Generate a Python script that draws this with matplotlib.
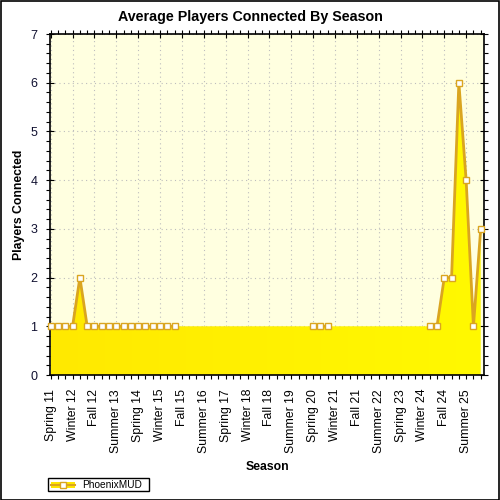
import numpy as np
import matplotlib
matplotlib.use("Agg")
import matplotlib.pyplot as plt
from matplotlib.colors import LinearSegmentedColormap
from matplotlib.patches import Rectangle
from matplotlib.lines import Line2D

plt.rcParams['font.family'] = ['Liberation Sans', 'DejaVu Sans']

# season names, Spring 11 .. Winter 26
season_cycle = ['Spring', 'Summer', 'Fall', 'Winter']
first_year = 11
n_seasons = 60
seasons = []
year = first_year
for i in range(n_seasons):
    name = season_cycle[i % 4]
    if name == 'Winter':
        year += 1
    seasons.append(f'{name} {year}')

# average players per season (None = no reading)
players = [1, 1, 1, 1, 2, 1, 1, 1, 1, 1, 1, 1, 1, 1, 1, 1, 1, 1,
           None, None, None, None, None, None, None, None, None,
           None, None, None, None, None, None, None, None, None,
           1, 1, 1,
           None, None, None, None, None, None, None, None, None,
           None, None, None, None,
           1, 1, 2, 2, 6, 4, 1, 3]
gap_level = 1.0
series_name = 'PhoenixMUD'

x = np.arange(len(seasons))
y = np.array([np.nan if v is None else v for v in players], dtype=float)
y_fill = np.where(np.isnan(y), gap_level, y)

line_col = '#DAA520'

fig = plt.figure(figsize=(5, 5), dpi=100)
fig.patch.set_facecolor('white')
ax = fig.add_axes([0.100, 0.250, 0.868, 0.682])
ax.set_facecolor('#FFFFE0')

# gradient-filled area
poly = ax.fill_between(x, 0, y_fill, facecolor='none', edgecolor='none', zorder=2)
grad = np.linspace(0, 1, 256).reshape(1, -1)
cmap = LinearSegmentedColormap.from_list('yel', ['#FFE900', '#FFF900'])
im = ax.imshow(grad, cmap=cmap, aspect='auto', extent=[-0.1, 59.45, 0, 7],
               zorder=2, interpolation='bilinear')
im.set_clip_path(poly.get_paths()[0], transform=ax.transData)
ax.set_xlim(-0.1, 59.45)
ax.set_ylim(0, 7)

ax.plot(x, y, color=line_col, lw=2, marker='s', markersize=4.5,
        markerfacecolor='white', markeredgecolor=line_col, markeredgewidth=1,
        zorder=4, clip_on=False)

# ticks and grid
ax.set_xticks(x[::3])
ax.set_xticks(x, minor=True)
ax.set_xticklabels(seasons[::3], rotation=90, fontsize=8.8)
ax.set_yticks(np.arange(0, 8))
ax.set_yticks(np.arange(0, 7.01, 0.2), minor=True)
ax.tick_params(axis='y', labelsize=9, labelcolor='#101030')
ax.grid(True, which='major', color='#BDBDBD', linestyle=(0, (1, 3)), lw=0.8, zorder=1)
ax.set_axisbelow(True)

ax.tick_params(which='major', direction='inout', length=6, width=0.8,
               top=True, right=True)
ax.tick_params(which='minor', direction='out', length=3, width=0.8,
               top=True, right=True)
ax.tick_params(axis='x', which='major', pad=7)
ax.tick_params(axis='y', which='major', pad=6)
for sp in ax.spines.values():
    sp.set_linewidth(1.2)

fig.text(0.5, 0.966, 'Average Players Connected By Season', fontsize=10.3,
         fontweight='bold', ha='center', va='center')
ax.set_xlabel('Season', fontsize=8.8, fontweight='bold', labelpad=6)
ax.set_ylabel('Players Connected', fontsize=8.8, fontweight='bold', labelpad=4)

# legend box
fig.patches.append(Rectangle((0.096, 0.018), 0.202, 0.026, transform=fig.transFigure,
                             facecolor='white', edgecolor='black', lw=1))
fig.patches.append(Rectangle((0.101, 0.025), 0.048, 0.012, transform=fig.transFigure,
                             facecolor='#FFE600', edgecolor='none'))
fig.lines.append(Line2D([0.101, 0.149], [0.031, 0.031], transform=fig.transFigure,
                        color=line_col, lw=1.5))
fig.lines.append(Line2D([0.125], [0.031], transform=fig.transFigure, marker='s',
                        markersize=4.5, markerfacecolor='white',
                        markeredgecolor=line_col, markeredgewidth=1))
fig.text(0.165, 0.031, series_name, fontsize=7.3, va='center', ha='left')

# outer frame
fig.patches.append(Rectangle((0.001, 0.001), 0.997, 0.997, transform=fig.transFigure,
                             facecolor='none', edgecolor='black', lw=1.2))

fig.savefig('out.png', dpi=100)
